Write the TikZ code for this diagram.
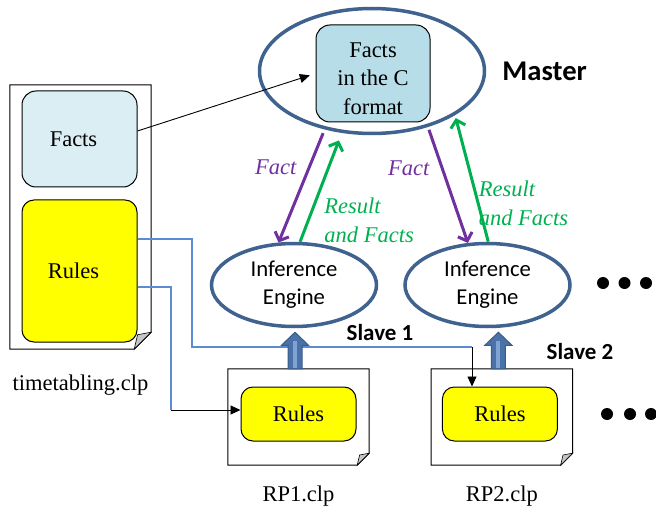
\documentclass[tikz,border=0pt]{standalone}
\usepackage{fontspec}
\setmainfont{Liberation Serif}
\newfontfamily\timesfont{Liberation Serif}
\newfontfamily\calibrifont{Carlito}
\usetikzlibrary{positioning,arrows.meta,shapes.geometric}

\definecolor{engineblue}{HTML}{3F628F}
\definecolor{factsblue}{HTML}{DAEEF3}
\definecolor{cfactsblue}{HTML}{B7DDE8}
\definecolor{rulesyellow}{HTML}{FFFF00}
\definecolor{factpurple}{HTML}{7030A0}
\definecolor{resultgreen}{HTML}{00B050}
\definecolor{wireblue}{HTML}{5B8BD0}
\definecolor{pipedark}{HTML}{385D8A}
\definecolor{pipeblue}{HTML}{4A72A8}
\definecolor{pipelight}{HTML}{7FA3D3}

\tikzset{
  serif text/.style={font=\timesfont\fontsize{22.5}{28.5}\selectfont},
  sans text/.style={font=\calibrifont\fontsize{22.7}{28}\selectfont},
  clp page/.style={inner sep=0pt},
  fact box/.style={draw, line width=1pt, rounded corners=14pt, fill=factsblue,
    inner sep=0pt, serif text, align=center},
  rule box/.style={draw, line width=1pt, rounded corners=12pt, fill=rulesyellow,
    inner sep=0pt, serif text},
  engine/.style={ellipse, draw=engineblue, line width=3.5pt, fill=white,
    inner sep=0pt, sans text, align=center},
  fact arrow/.style={draw=factpurple, line width=3pt,
    -{Straight Barb[length=7pt,width=15pt]}},
  result arrow/.style={draw=resultgreen, line width=3pt,
    -{Straight Barb[length=7pt,width=15pt]}},
  fact label/.style={inner sep=0pt, font=\timesfont\itshape\fontsize{22.5}{28.5}\selectfont,
    text=factpurple},
  result label/.style={inner sep=0pt, align=left,
    font=\timesfont\itshape\fontsize{22.5}{29}\selectfont, text=resultgreen},
  wire/.style={draw=wireblue, line width=1.3pt},
  feed/.style={draw=black, line width=0.9pt, -{Triangle[length=10pt,width=9pt]}},
  pipe/.style={fill=pipeblue, draw=pipedark, line width=1pt, line join=miter},
  pipe core/.style={draw=pipelight, line width=4pt},
  slave/.style={inner sep=0pt, font=\calibrifont\bfseries\fontsize{23}{28}\selectfont},
}

% page outline with a turned-down corner
\newcommand\foldpage[2]{%
  \draw[line width=1pt, fill=white] (#1.north west) -- (#1.north east)
    -- ([yshift=#2]#1.south east) -- ([xshift=-#2]#1.south east)
    -- (#1.south west) -- cycle;
  \draw[line width=0.6pt, fill=gray!45] ([yshift=#2]#1.south east)
    -- ([xshift=-0.8*#2, yshift=0.85*#2]#1.south east)
    -- ([xshift=-#2]#1.south east) -- cycle;}

\begin{document}
\begin{tikzpicture}[x=1pt,y=1pt]
  \useasboundingbox (0,0) rectangle (656,507);

  % timetabling.clp
  \node[clp page, minimum width=141pt, minimum height=264pt] (leftpage) at (80.5,290) {};
  \foldpage{leftpage}{17pt}
  \node[fact box, minimum width=115pt, minimum height=96pt] (facts) at (79.5,368) {Facts\hspace*{12pt}};
  \node[rule box, minimum width=115pt, minimum height=142pt, below=12pt of facts] (rules) {Rules\hspace*{12pt}};
  \node[serif text, inner sep=0pt, below=25pt of leftpage] (tlabel) {timetabling.clp};

  % master
  \node[engine, minimum width=225pt, minimum height=125pt] (master) at (372,436) {};
  \node[fact box, fill=cfactsblue, minimum width=114pt, minimum height=97pt]
    (cfacts) at (373,433.5) {\rule{0pt}{25pt}Facts\\in the C\\format};
  \node[inner sep=0pt, right=16pt of master, font=\calibrifont\bfseries\fontsize{28.6}{32}\selectfont]
    (mlabel) {Master};

  % slaves
  \node[engine, minimum width=165pt, minimum height=83pt] (ie1) at (294,222) {Inference\\Engine};
  \node[engine, minimum width=165pt, minimum height=83pt, right=25pt of ie1] (ie2) {Inference\\Engine};
  \node[slave] (s1) at (380,174) {Slave 1};
  \node[slave] (s2) at (580,155) {Slave 2};

  % RP files
  \node[clp page, minimum width=141pt, minimum height=96pt] (page1) at (298.5,90) {};
  \node[clp page, minimum width=141pt, minimum height=96pt, right=62pt of page1] (page2) {};
  \foldpage{page1}{12pt}
  \foldpage{page2}{12pt}
  \node[rule box, minimum width=115pt, minimum height=54pt] (rules1) at ([yshift=3pt]page1.center) {Rules};
  \node[rule box, minimum width=115pt, minimum height=54pt] (rules2) at ([xshift=-2pt,yshift=3pt]page2.center) {Rules};
  \node[serif text, inner sep=0pt, below=20pt of page1] (rp1) {RP1.clp};
  \node[serif text, inner sep=0pt, below=20pt of page2] (rp2) {RP2.clp};

  % rules split over the files
  \coordinate (bendA) at (192,160);
  \coordinate (bendB) at (472,160);
  \coordinate (bendC) at (171,97);
  \draw[wire] ([yshift=32pt]rules.east) -| (bendA) -- (bendB);
  \draw[feed] (bendB) -- (bendB |- rules2.north);
  \draw[wire] ([yshift=-16pt]rules.east) -| (bendC);
  \draw[feed] (bendC) -- (bendC -| rules1.west);

  % loading rules into the engines
  \foreach \p/\e in {page1/ie1, page2/ie2} {
    \coordinate (base) at ([xshift=-3.5pt]\p.north);
    \coordinate (tip) at ([yshift=-4pt]base |- \e.south);
    \draw[pipe] ([xshift=-7pt]base) -- ([xshift=-7pt,yshift=-13pt]tip)
      -- ([xshift=-13.5pt,yshift=-13pt]tip) -- (tip)
      -- ([xshift=13.5pt,yshift=-13pt]tip) -- ([xshift=7pt,yshift=-13pt]tip)
      -- ([xshift=7pt]base) -- cycle;
    \draw[pipe core] ([yshift=1pt]base) -- ([yshift=-9pt]tip);
  }

  % facts and results
  \draw[fact arrow, shorten <=4pt] (master.231.8) -- (ie1.110.8)
    node[fact label, pos=0.33, anchor=east, xshift=-11.5pt] {Fact};
  \draw[result arrow, shorten >=8pt] (ie1.82) -- (master.244.1)
    node[result label, pos=0.2, anchor=west, xshift=14.5pt] {Result\\and Facts};
  \draw[fact arrow, shorten <=3pt] (master.315.2) -- (ie2.115.6)
    node[fact label, pos=0.355, anchor=east, xshift=-11.3pt] {Fact};
  \draw[result arrow, shorten >=3pt] (ie2.89) -- (master.332.1)
    node[result label, pos=0.3, anchor=west, xshift=-1pt] {Result\\and Facts};

  \draw[feed, shorten >=6pt] ([yshift=8pt]facts.east) -- (cfacts.west);

  % more slaves
  \foreach \x in {603,624.5,646} \fill (\x,224) circle (6pt);
  \foreach \x in {607,630,651} \fill (\x,93) circle (6pt);
\end{tikzpicture}
\end{document}
